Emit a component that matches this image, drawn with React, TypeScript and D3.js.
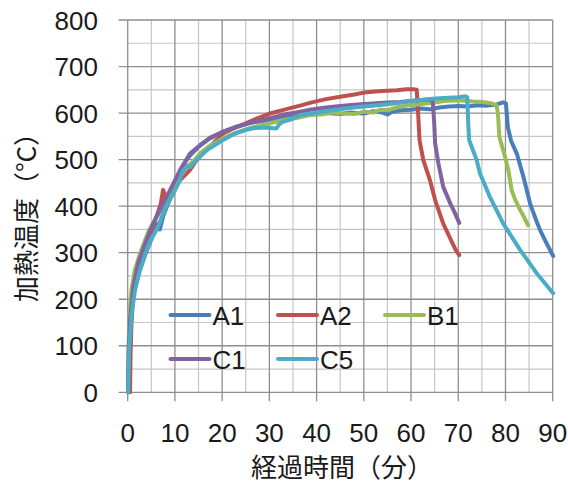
import React from "react";
import * as d3 from "d3";

type Pt = [number, number];

// Heating temperature (°C) against elapsed time (min) for five specimens
const seriesNames = ["A1", "A2", "B1", "C1", "C5"];
const seriesColors = ["#4A7EBB", "#C0504D", "#9BBB59", "#8064A2", "#4BACC6"];

const A1: Pt[] = [
  [0.1, 0], [0.2, 60], [0.3, 115], [0.5, 160], [0.9, 198], [1.5, 226], [2.5, 260], [3.5, 290],
  [4.5, 316], [5.5, 340], [6.1, 363], [6.8, 350], [7.5, 378], [8.5, 404], [9.5, 428], [10.5, 456],
  [11.5, 482], [12.5, 500], [13.5, 512], [15, 527], [17, 543], [20, 559], [23, 571], [26, 579],
  [30, 585], [33, 590], [36, 594], [39, 598], [42, 600], [45, 598], [47, 601], [50, 599],
  [52, 604], [54, 601], [55, 597], [56, 603], [58, 606], [60, 607], [62, 610], [64, 608],
  [66, 612], [68, 614], [70, 615], [72, 614], [74, 617], [76, 616], [78, 618], [79.5, 623],
  [80.1, 621], [80.5, 570], [81.2, 540], [82.4, 513], [83.8, 463], [85.2, 406], [86.3, 375],
  [87.3, 349], [88.7, 320], [90.1, 293],
];

const A2: Pt[] = [
  [0.5, 0], [0.6, 80], [0.8, 150], [1.2, 210], [2, 255], [3, 290], [4, 318], [5, 345],
  [6, 375], [7, 405], [7.5, 435], [8, 420], [8.4, 405], [9, 420], [10, 440], [11.1, 456],
  [12, 465], [13.2, 478], [14.6, 499], [16, 515], [17.4, 528], [19, 544], [20.2, 556],
  [22.4, 567], [25, 578], [28, 591], [30.1, 599], [33, 607], [36.5, 616], [39, 623],
  [42, 630], [45, 635], [48, 640], [50.6, 645], [53, 647], [55, 648], [57, 649], [59, 651],
  [60.5, 651], [61.2, 650], [61.5, 600], [61.8, 542], [62.6, 499], [64, 456], [65.1, 413],
  [66.8, 363], [68.6, 324], [69.5, 305], [70.2, 295],
];

const B1: Pt[] = [
  [0.1, 0], [0.2, 100], [0.4, 170], [0.8, 220], [1.5, 262], [2.5, 295], [3.5, 322],
  [4.5, 348], [5.8, 370], [7, 392], [8, 410], [9, 425], [10, 445], [11, 462], [12.5, 485],
  [14, 497], [15.3, 513], [17, 527], [20.2, 546], [23, 558], [26, 568], [30.1, 578],
  [33, 585], [36, 590], [38.6, 596], [41, 597], [43, 601], [45.7, 599], [48, 598],
  [50, 603], [52, 601], [53.4, 607], [55, 606], [57, 612], [59, 616], [61, 618],
  [62.6, 620], [64.7, 622], [67, 626], [69, 627], [71, 627], [73, 625], [75, 624],
  [77, 621], [78.1, 617], [78.4, 600], [78.7, 549], [79.9, 506], [80.6, 478], [81.3, 435],
  [82, 415], [83.1, 392], [84, 375], [84.8, 359],
];

const C1: Pt[] = [
  [0.1, 0], [0.2, 90], [0.5, 155], [1.2, 227], [2.2, 277], [3.7, 320], [5.4, 363],
  [7.5, 406], [9.7, 449], [11.1, 478], [13.2, 513], [15.3, 531], [17.4, 547], [20.2, 560],
  [23, 570], [26, 579], [30.1, 589], [33.7, 598], [36, 602], [38.6, 607], [42, 612],
  [45, 615], [48, 618], [51, 620], [54, 622], [57.7, 624], [60, 626], [62, 628],
  [64.3, 629], [64.6, 624], [64.9, 580], [65.1, 535], [65.8, 492], [66.8, 442], [68.3, 406],
  [69.3, 385], [70.2, 364],
];

const C5: Pt[] = [
  [0.1, 0], [0.2, 50], [0.35, 98], [0.85, 170], [1.55, 220], [2.6, 263], [4, 306], [5, 330],
  [6.1, 349], [6.6, 360], [7.5, 385], [8.6, 408], [9.7, 428], [11.1, 456], [11.6, 475],
  [12.5, 485], [13.2, 484], [13.9, 492], [15.3, 506], [17, 522], [20.2, 542], [22.5, 555],
  [25.1, 564], [27, 568], [29, 569], [31.5, 567], [32, 575], [32.8, 581], [34.5, 586],
  [36.5, 596], [38.6, 598], [41, 603], [44, 607], [47, 611], [50, 614], [53, 617],
  [55, 619], [57.7, 622], [60, 626], [62, 628], [64, 630], [66, 632], [68, 633], [70, 634],
  [71.6, 636], [71.9, 634], [72.1, 580], [72.3, 542], [73.9, 499], [74.6, 470], [76.7, 420],
  [79.5, 363], [83.1, 306], [86.6, 256], [90.1, 213],
];

const seriesData = [A1, A2, B1, C1, C5];

const xTicks = [0, 10, 20, 30, 40, 50, 60, 70, 80, 90];
const yTicks = [0, 100, 200, 300, 400, 500, 600, 700, 800];
const xTitle = "経過時間（分）";
const yTitle = "加熱温度（°C）";

const W = 568;
const H = 484;
const plot = { left: 127.7, right: 552.7, top: 20, bottom: 392.3 };
const CJK_FONT = "'Noto Sans CJK JP', sans-serif";
const NUM_FONT = "'Liberation Sans', Arial, sans-serif";

export default function App() {
  const x = d3.scaleLinear().domain([0, 90]).range([plot.left, plot.right]);
  const y = d3.scaleLinear().domain([0, 800]).range([plot.bottom, plot.top]);
  const line = d3
    .line<Pt>()
    .x((d) => x(d[0]))
    .y((d) => y(d[1]));

  const minorX = d3.range(5, 90, 10);
  const minorY = d3.range(50, 800, 100);

  const legendRows = [
    { name: "A1", idx: 0, col: 0, row: 0 },
    { name: "A2", idx: 1, col: 1, row: 0 },
    { name: "B1", idx: 2, col: 2, row: 0 },
    { name: "C1", idx: 3, col: 0, row: 1 },
    { name: "C5", idx: 4, col: 1, row: 1 },
  ];
  const legendX0 = [170.5, 278, 385];
  const legendY0 = [315, 359];

  return (
    <svg
      width={W}
      height={H}
      style={{ position: "absolute", left: 0, top: 0, background: "#fff" }}
    >
      <rect x={0} y={0} width={W} height={H} fill="#fff" />
      {/* minor grid */}
      <g stroke="#c6c6c6" strokeWidth={1.2}>
        {minorX.map((v) => (
          <line key={"mx" + v} x1={x(v)} x2={x(v)} y1={plot.top} y2={plot.bottom} />
        ))}
        {minorY.map((v) => (
          <line key={"my" + v} x1={plot.left} x2={plot.right} y1={y(v)} y2={y(v)} />
        ))}
      </g>
      {/* major grid with outside ticks */}
      <g stroke="#8e8e8e" strokeWidth={1.3}>
        {xTicks.map((v) => (
          <line key={"gx" + v} x1={x(v)} x2={x(v)} y1={plot.top} y2={plot.bottom + 9} />
        ))}
        {yTicks.map((v) => (
          <line key={"gy" + v} x1={plot.left - 9} x2={plot.right} y1={y(v)} y2={y(v)} />
        ))}
      </g>
      {/* series */}
      <g fill="none" strokeWidth={4} strokeLinejoin="round" strokeLinecap="round">
        {seriesData.map((d, i) => (
          <path key={seriesNames[i]} d={line(d) || ""} stroke={seriesColors[i]} />
        ))}
      </g>
      {/* tick labels */}
      <g fontSize={26} fill="#1a1a1a" fontFamily={NUM_FONT}>
        {yTicks.map((v) => (
          <text key={"ty" + v} x={98} y={y(v) + 9.5} textAnchor="end">
            {v}
          </text>
        ))}
        {xTicks.map((v) => (
          <text key={"tx" + v} x={x(v)} y={442} textAnchor="middle">
            {v}
          </text>
        ))}
      </g>
      {/* axis titles */}
      <text
        x={342}
        y={477}
        fontSize={26}
        fontFamily={CJK_FONT}
        textAnchor="middle"
        fill="#1a1a1a"
      >
        {xTitle}
      </text>
      <text
        transform={`translate(24,211) rotate(-90)`}
        fontSize={26}
        fontFamily={CJK_FONT}
        textAnchor="middle"
        dominantBaseline="central"
        fill="#1a1a1a"
      >
        {yTitle}
      </text>
      {/* legend */}
      <g>
        {legendRows.map((r) => {
          const lx = legendX0[r.col];
          const ly = legendY0[r.row];
          return (
            <g key={r.name}>
              <line
                x1={lx}
                x2={lx + 39}
                y1={ly}
                y2={ly}
                stroke={seriesColors[r.idx]}
                strokeWidth={4}
                strokeLinecap="round"
              />
              <text
                x={lx + 42}
                y={ly + 9.5}
                fontSize={26}
                fontFamily={NUM_FONT}
                fill="#1a1a1a"
              >
                {r.name}
              </text>
            </g>
          );
        })}
      </g>
    </svg>
  );
}
